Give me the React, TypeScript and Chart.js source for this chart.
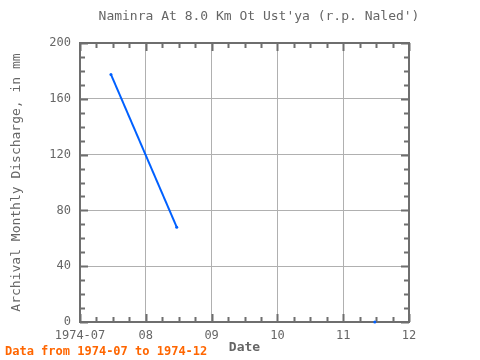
import React, { useEffect, useRef } from "react";
import { Chart, registerables } from "chart.js";

Chart.register(...registerables);

const monthTickLabels = ["1974-07", "08", "09", "10", "11", "12"];
const monthPositions = [0.47, 1.47, 2.47, 3.47, 4.48];
const dischargeValues: (number | null)[] = [177.5, 68, null, null, 0];
const yTicks = [0, 40, 80, 120, 160, 200];
const chartTitle = "Naminra At 8.0 Km Ot Ust'ya (r.p. Naled')";
const footerText = "Data from 1974-07 to 1974-12";

const TEXT = "#666666";
const FRAME = "#6e6e6e";
const GRID = "#b0b0b0";
const FONT = "'DejaVu Sans Mono', 'Liberation Mono', monospace";

const framePlugin = {
  id: "frameTicks",
  beforeDatasetsDraw(chart: any) {
    const { ctx, chartArea } = chart;
    const { left, right, top, bottom } = chartArea;
    const xs = chart.scales.x;
    const ys = chart.scales.y;
    ctx.save();
    ctx.strokeStyle = FRAME;
    ctx.lineWidth = 2;
    ctx.strokeRect(left, top, right - left, bottom - top);
    ctx.beginPath();
    for (let m = 0; m <= 20; m++) {
      const v = m / 4;
      const px = Math.round(xs.getPixelForValue(v)) + 0.5;
      const len = m % 4 === 0 ? 8 : 5;
      ctx.moveTo(px, bottom);
      ctx.lineTo(px, bottom - len);
      ctx.moveTo(px, top);
      ctx.lineTo(px, top + len);
    }
    for (let v = 0; v <= 200; v += 10) {
      const py = Math.round(ys.getPixelForValue(v)) + 0.5;
      const len = v % 40 === 0 ? 8 : 5;
      ctx.moveTo(left, py);
      ctx.lineTo(left + len, py);
      ctx.moveTo(right, py);
      ctx.lineTo(right - len, py);
    }
    ctx.lineWidth = 2;
    ctx.stroke();
    ctx.restore();
  },
  afterDraw(chart: any) {
    const { ctx } = chart;
    ctx.save();
    ctx.textBaseline = "middle";
    ctx.font = "13px " + FONT;
    ctx.fillStyle = TEXT;
    ctx.textAlign = "center";
    ctx.fillText(chartTitle, 259, 17);
    ctx.font = "bold 12px " + FONT;
    ctx.fillStyle = "#ff6600";
    ctx.textAlign = "left";
    ctx.fillText(footerText, 5, 352);
    ctx.restore();
  },
};

export default function App() {
  const ref = useRef<HTMLCanvasElement | null>(null);
  useEffect(() => {
    if (!ref.current) return;
    const chart = new Chart(ref.current, {
      type: "line",
      data: {
        datasets: [
          {
            data: monthPositions.map((x, i) => ({ x, y: dischargeValues[i] as any })),
            borderColor: "#0060ff",
            backgroundColor: "#0060ff",
            borderWidth: 2,
            pointRadius: 1.5,
            pointBorderWidth: 0,
            spanGaps: false,
            tension: 0,
            clip: false as any,
          },
        ],
      },
      plugins: [framePlugin],
      options: {
        animation: false,
        responsive: false,
        maintainAspectRatio: false,
        layout: { padding: { left: 0, right: 71, top: 43, bottom: 0 } },
        plugins: {
          legend: { display: false },
          tooltip: { enabled: false },
          title: { display: false },
        },
        scales: {
          x: {
            type: "linear",
            min: 0,
            max: 5,
            afterFit(scale: any) {
              scale.height = 38;
            },
            afterBuildTicks(scale: any) {
              scale.ticks = monthTickLabels.map((_, i) => ({ value: i }));
            },
            ticks: {
              color: TEXT,
              font: { family: FONT, size: 12 },
              padding: 7,
              maxRotation: 0,
              autoSkip: false,
              callback: (v: any) => monthTickLabels[Math.round(v)] ?? "",
            },
            grid: { color: GRID, lineWidth: 1, drawTicks: false },
            border: { display: false },
            title: {
              display: true,
              text: "Date",
              color: TEXT,
              font: { family: FONT, size: 13, weight: "bold" },
              padding: { top: 0, bottom: 5 },
            },
          },
          y: {
            min: 0,
            max: 200,
            afterFit(scale: any) {
              scale.width = 80;
            },
            afterBuildTicks(scale: any) {
              scale.ticks = yTicks.map((v) => ({ value: v }));
            },
            ticks: {
              color: TEXT,
              font: { family: FONT, size: 12 },
              padding: 9,
            },
            grid: { color: GRID, lineWidth: 1, drawTicks: false },
            border: { display: false },
            title: {
              display: true,
              text: "Archival Monthly Discharge, in mm",
              color: TEXT,
              font: { family: FONT, size: 13 },
              padding: { top: 9, bottom: 4 },
            },
          },
        },
      },
    });
    return () => chart.destroy();
  }, []);
  return (
    <div style={{ position: "fixed", left: 0, top: 0, width: 480, height: 360, background: "#fff" }}>
      <canvas ref={ref} width={480} height={360} style={{ width: 480, height: 360 }} />
    </div>
  );
}
